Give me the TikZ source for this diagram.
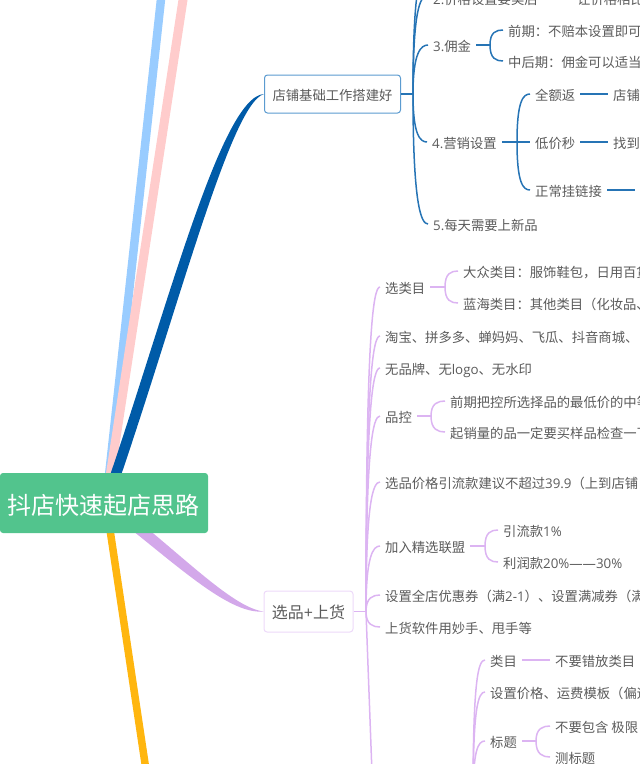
\documentclass[tikz,border=0pt]{standalone}
\usepackage{fontspec}
\setmainfont{Noto Sans CJK SC}
\newfontfamily\latpart{Open Sans}
\usetikzlibrary{calc, backgrounds}
\definecolor{rootgreen}{HTML}{52C48D}
\definecolor{inkgray}{HTML}{5A5A5A}
\definecolor{shopblue}{HTML}{005BA8}
\definecolor{shopline}{HTML}{5B9BD0}
\definecolor{pickline}{HTML}{DCB4F2}
\definecolor{pickfill}{HTML}{D3A8EA}
\definecolor{pickrim}{HTML}{EDD9F9}
\tikzset{
	rootbox/.style={fill=rootgreen, rounded corners=3pt, inner sep=0pt, text=white, text height=22.2pt, text depth=0pt, font=\fontsize{24}{24}\selectfont},
	topicbox/.style={draw=#1, fill=white, line width=1pt, rounded corners=3pt, inner sep=0pt, text=inkgray, text height=12pt, text depth=0pt, font=\fontsize{13.33}{14}\selectfont},
	leaf/.style={anchor=west, inner ysep=0pt, inner xsep=5pt, text height=12pt, text depth=0pt, text=inkgray, font=\fontsize{13.33}{14}\selectfont},
	blueline/.style={draw=shopblue!85!white, line width=1.5pt},
	pinkline/.style={draw=pickline, line width=1.5pt},
}
\newcommand{\lat}[1]{{\latpart #1}}
\newcommand{\branch}[3]{\draw[#1] (#2) .. controls ($(#2)!0.85!(#2|-#3)$) and ($(#3)+(-7,0)$) .. (#3);}
\newcommand{\taperlink}[7]{\fill[#1] ($(#2)+(#6)$) .. controls ($(#3)+(#6)$) and ($(#4)+(#7)$) .. (#5) .. controls ($(#4)-(#7)$) and ($(#3)-(#6)$) .. ($(#2)-(#6)$) -- cycle;}

\begin{document}
\begin{tikzpicture}[x=1pt,y=-1pt]
	\useasboundingbox (0,0) rectangle (640,764);

	\node[rootbox, minimum width=208pt, minimum height=60pt] (root) at (104,503) {抖店快速起店思路};
	\node[topicbox=shopline, minimum width=136pt, minimum height=38pt] (shop) at (332.5,94) {店铺基础工作搭建好};
	\node[topicbox=pickrim, minimum width=89pt, minimum height=41pt, text height=14pt, font=\fontsize{16}{16}\selectfont] (pick) at (308.5,611.5) {选品\lat{+}上货};

	\coordinate (root hub) at (106,503);
	\coordinate (blue end) at (162,-10);
	\coordinate (pink end) at (184.5,-10);
	\coordinate (orange end) at (149,790);

	\begin{scope}[on background layer]
		\draw[line width=8.5pt, color={rgb,255:red,153;green,204;blue,255}] (root hub) -- (blue end);
		\draw[line width=9pt, color={rgb,255:red,255;green,204;blue,204}] (root hub) -- (pink end);
		\draw[line width=7.5pt, color={rgb,255:red,255;green,182;blue,15}] (root hub) -- (orange end);
		\taperlink{shopblue}{root hub}{170,320}{225,100}{shop.west}{5.5,0}{5,3.5}
		\taperlink{pickfill}{root hub}{172,552}{228,611}{pick.west}{4,-4}{2,-4}
	\end{scope}

	% shop setup
	\coordinate (shop hub) at (413,94);
	\coordinate (shop first) at (427,-30);
	\coordinate (shop second) at (427,-4);
	\node[leaf] (shop 2) at (428,-2) {\lat{2.}价格设置要美后};
	\node[leaf] (shop 2a) at (572,-2) {让价格相比};
	\node[leaf] (shop 3) at (428,45) {\lat{3.}佣金};
	\node[leaf] (shop 3a) at (503,30) {前期：不赔本设置即可};
	\node[leaf] (shop 3b) at (503,61) {中后期：佣金可以适当};
	\node[leaf] (shop 4) at (427,142) {\lat{4.}营销设置};
	\node[leaf] (shop 4a) at (530,94) {全额返};
	\node[leaf] (shop 4b) at (530,142) {低价秒};
	\node[leaf] (shop 4c) at (530,190) {正常挂链接};
	\node[leaf] (shop 4a1) at (608,94) {店铺};
	\node[leaf] (shop 4b1) at (608,142) {找到};
	\node[leaf] (shop 5) at (428,224) {\lat{5.}每天需要上新品};
	\coordinate (shop 3 hub) at (490,45);
	\coordinate (shop 4 hub) at (517,142);
	\coordinate (shop 4c end) at (635,190);

	\draw[blueline] (shop.east) -- (shop hub);
	\branch{blueline}{shop hub}{shop first}
	\branch{blueline}{shop hub}{shop second}
	\branch{blueline}{shop hub}{shop 3.west}
	\branch{blueline}{shop hub}{shop 4.west}
	\branch{blueline}{shop hub}{shop 5.west}
	\draw[blueline] (shop 3.east) -- (shop 3 hub);
	\branch{blueline}{shop 3 hub}{shop 3a.west}
	\branch{blueline}{shop 3 hub}{shop 3b.west}
	\draw[blueline] (shop 4.east) -- (shop 4 hub);
	\branch{blueline}{shop 4 hub}{shop 4a.west}
	\draw[blueline] (shop 4 hub) -- (shop 4b.west);
	\branch{blueline}{shop 4 hub}{shop 4c.west}
	\draw[blueline] (shop 4a.east) -- (shop 4a1.west);
	\draw[blueline] (shop 4b.east) -- (shop 4b1.west);
	\draw[blueline] (shop 4c.east) -- (shop 4c end);

	% picking goods
	\coordinate (pick hub) at (366,611.5);
	\coordinate (pick low) at (373,800);
	\node[leaf] (pick 1) at (380,287) {选类目};
	\node[leaf] (pick 1a) at (458,271) {大众类目：服饰鞋包，日用百货};
	\node[leaf] (pick 1b) at (458,303) {蓝海类目：其他类目（化妆品、};
	\node[leaf] (pick 2) at (380,336) {淘宝、拼多多、蝉妈妈、飞瓜、抖音商城、};
	\node[leaf] (pick 3) at (380,368) {无品牌、无\lat{logo}、无水印};
	\node[leaf] (pick 4) at (380,416) {品控};
	\node[leaf] (pick 4a) at (445,401) {前期把控所选择品的最低价的中等};
	\node[leaf] (pick 4b) at (445,432) {起销量的品一定要买样品检查一下};
	\node[leaf] (pick 5) at (380,482) {选品价格引流款建议不超过\lat{39.9}（上到店铺};
	\node[leaf] (pick 6) at (380,546) {加入精选联盟};
	\node[leaf] (pick 6a) at (498,530) {引流款\lat{1\%}};
	\node[leaf] (pick 6b) at (498,562) {利润款\lat{20\%——30\%}};
	\node[leaf] (pick 7) at (380,595) {设置全店优惠券（满\lat{2-1}）、设置满减券（满};
	\node[leaf] (pick 8) at (380,627) {上货软件用妙手、甩手等};
	\coordinate (pick 1 hub) at (445,287);
	\coordinate (pick 4 hub) at (431,416);
	\coordinate (pick 6 hub) at (485,546);

	\draw[pinkline] (pick.east) -- (pick hub);
	\foreach \leafname in {pick 1,pick 2,pick 3,pick 4,pick 5,pick 6,pick 7,pick 8}
		\branch{pinkline}{pick hub}{\leafname.west};
	\draw[pinkline] (pick hub) -- (pick low);
	\draw[pinkline] (pick 1.east) -- (pick 1 hub);
	\branch{pinkline}{pick 1 hub}{pick 1a.west}
	\branch{pinkline}{pick 1 hub}{pick 1b.west}
	\draw[pinkline] (pick 4.east) -- (pick 4 hub);
	\branch{pinkline}{pick 4 hub}{pick 4a.west}
	\branch{pinkline}{pick 4 hub}{pick 4b.west}
	\draw[pinkline] (pick 6.east) -- (pick 6 hub);
	\branch{pinkline}{pick 6 hub}{pick 6a.west}
	\branch{pinkline}{pick 6 hub}{pick 6b.west}

	% listing
	\coordinate (list hub) at (473,800);
	\node[leaf] (list 1) at (485,660) {类目};
	\node[leaf] (list 1a) at (550,660) {不要错放类目};
	\node[leaf] (list 2) at (485,692) {设置价格、运费模板（偏远};
	\node[leaf] (list 3) at (485,741) {标题};
	\node[leaf] (list 3a) at (550,726) {不要包含 极限};
	\node[leaf] (list 3b) at (550,757) {测标题};
	\coordinate (list 3 hub) at (536,741);

	\branch{pinkline}{list hub}{list 1.west}
	\branch{pinkline}{list hub}{list 2.west}
	\branch{pinkline}{list hub}{list 3.west}
	\draw[pinkline] (list 1.east) -- (list 1a.west);
	\draw[pinkline] (list 3.east) -- (list 3 hub);
	\branch{pinkline}{list 3 hub}{list 3a.west}
	\branch{pinkline}{list 3 hub}{list 3b.west}
\end{tikzpicture}
\end{document}
